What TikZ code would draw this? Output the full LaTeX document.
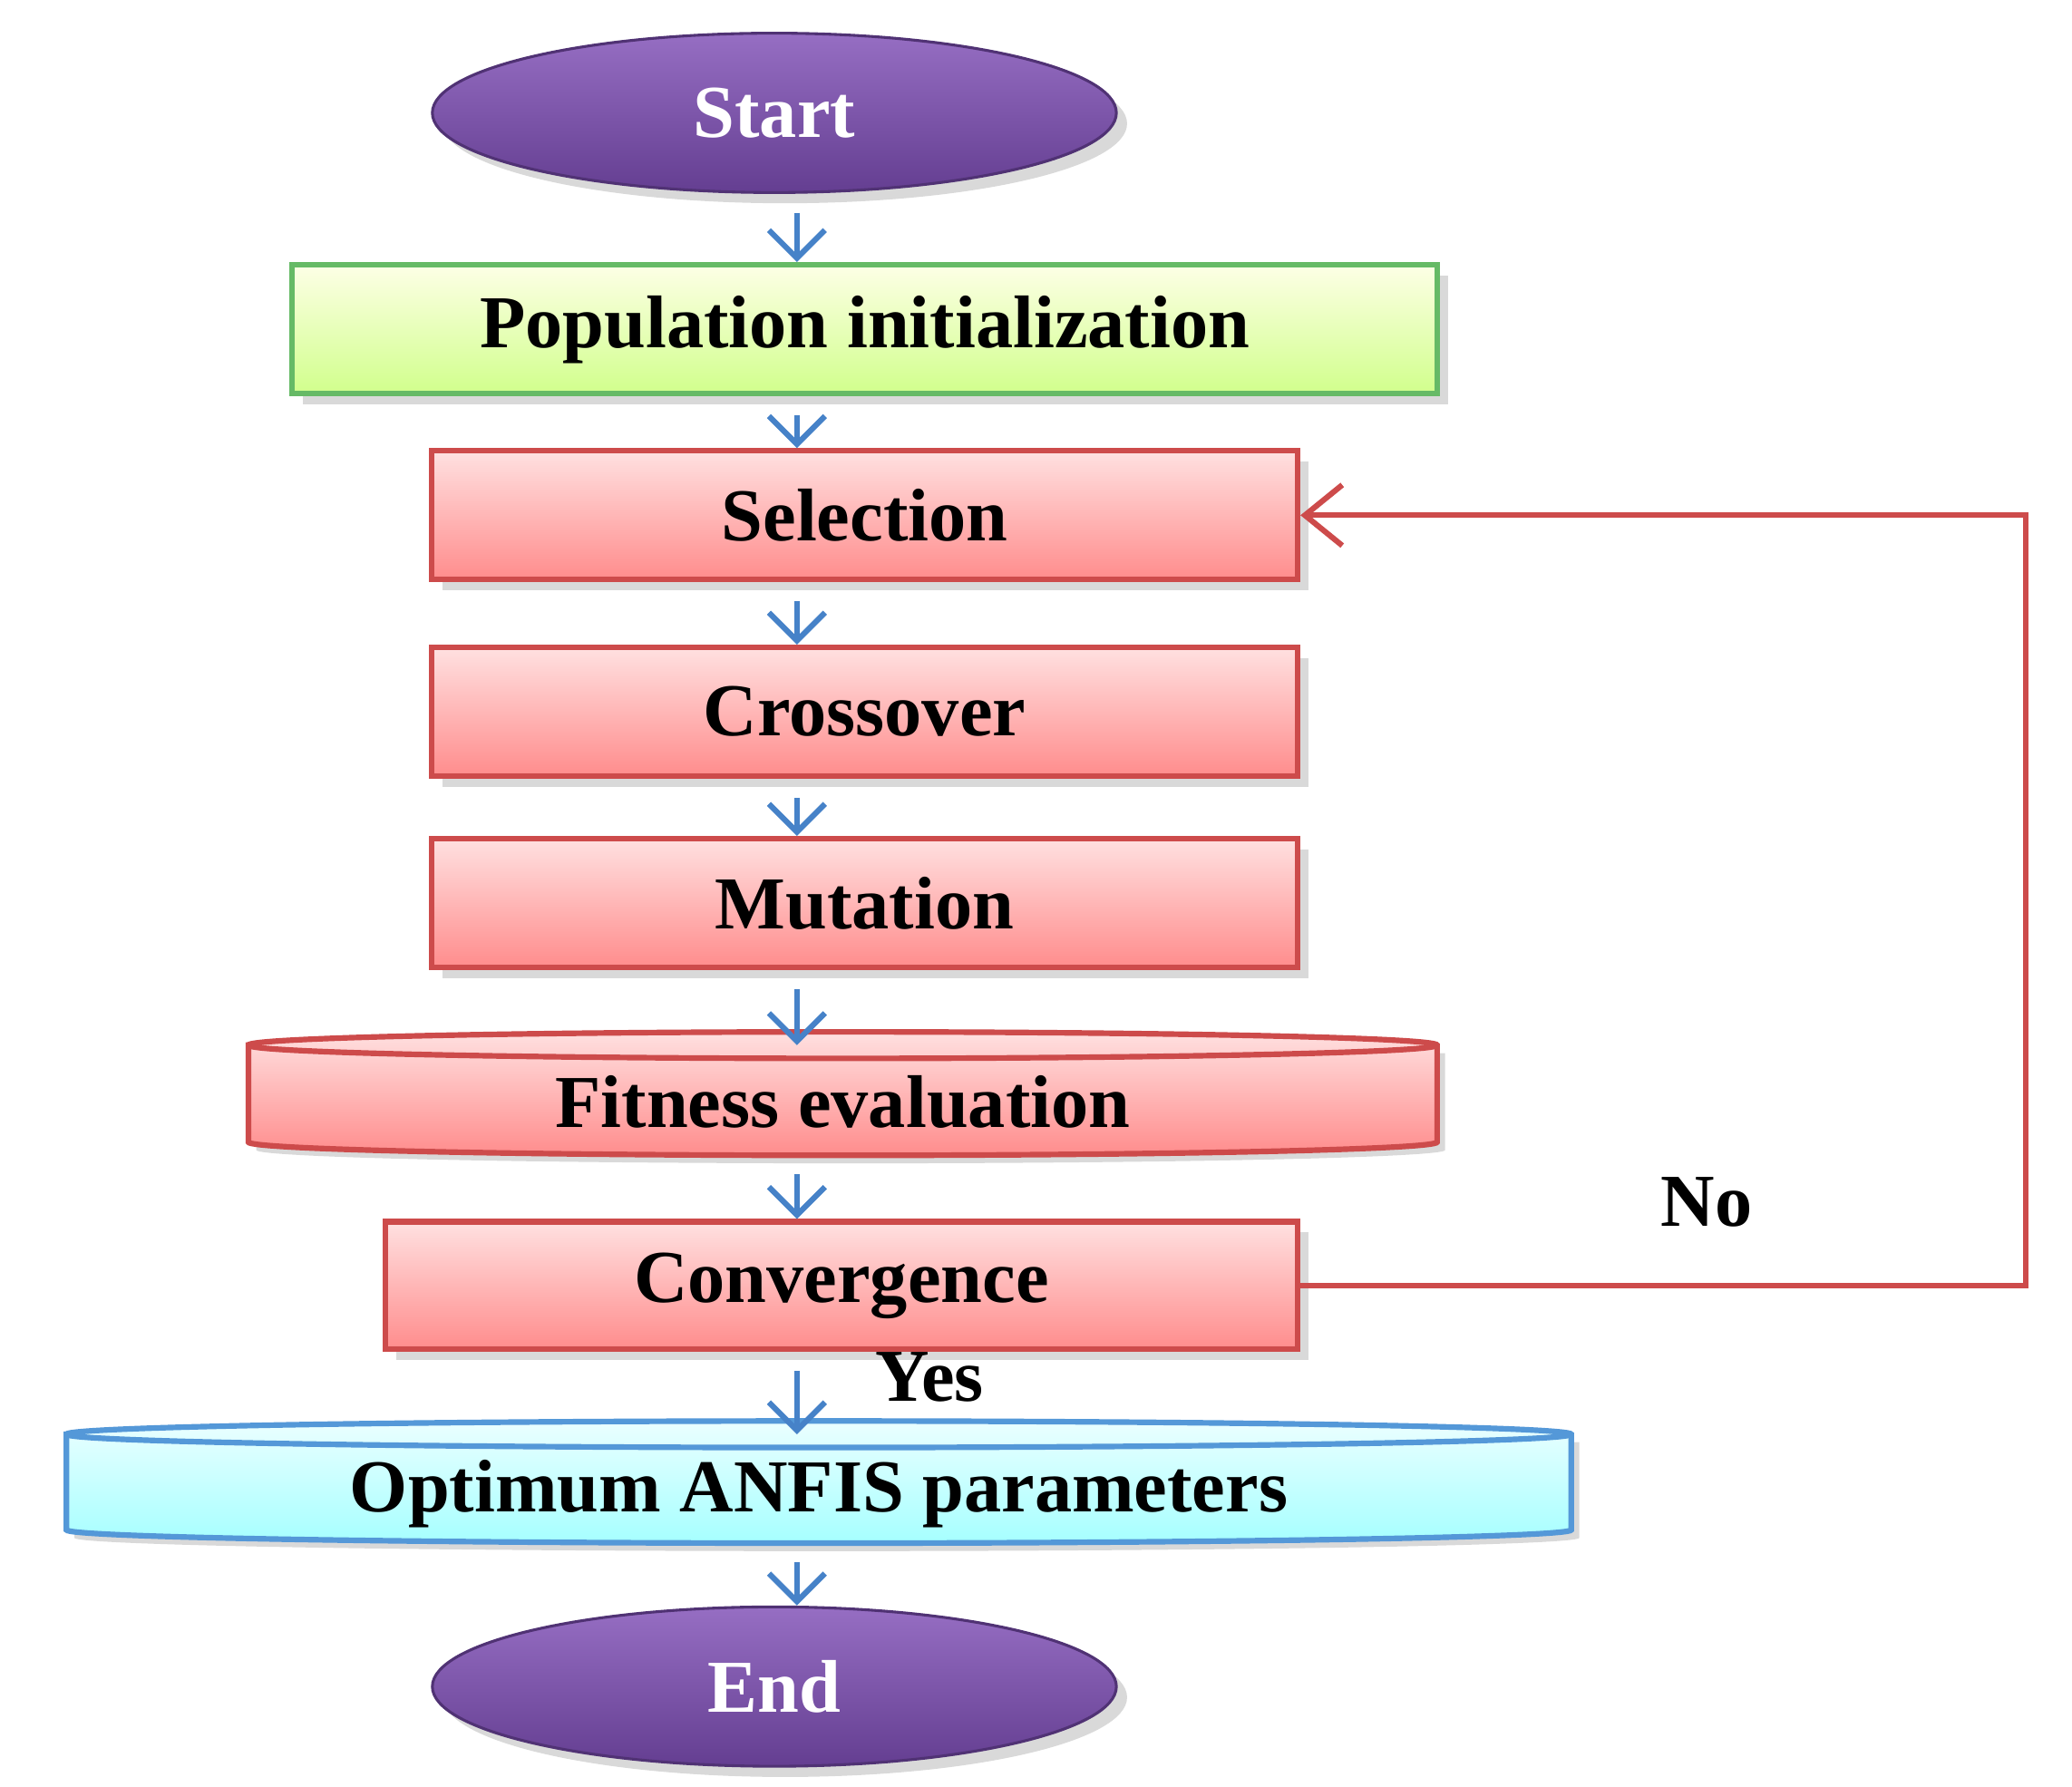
\documentclass[tikz,border=0pt]{standalone}
\usepackage{fontspec}
\setmainfont{Liberation Serif}
\usetikzlibrary{shapes.geometric,shadows,calc,arrows.meta}
\definecolor{boxred}{RGB}{205,75,75}
\definecolor{arrowblue}{RGB}{70,130,200}
\definecolor{termtop}{RGB}{150,110,195}
\definecolor{termbot}{RGB}{100,62,145}
\tikzset{
    stage/.style={rectangle, draw=boxred, line width=1.2pt, top color=red!12, bottom color=red!45!white,
        drop shadow={opacity=0.3}, font=\fontsize{16}{19}\selectfont\bfseries},
    term/.style={ellipse, draw=termbot!80!black, line width=0.6pt, top color=termtop, bottom color=termbot,
        minimum width=5.15cm, minimum height=1.2cm, drop shadow={opacity=0.3},
        text=white, font=\fontsize{16}{19}\selectfont\bfseries},
    flow/.style={->, arrowblue, line width=1.2pt, shorten <=4pt, >={Straight Barb[length=6pt,width=12pt]}},
}
\begin{document}
\begin{tikzpicture}
    \useasboundingbox (0,0) rectangle (15.6,13.45);

    % --- Start / End ---
    \node[term] (start) at (5.83,12.6) {Start};
    \node[term] (end) at (5.83,0.75) {End};

    % --- stages ---
    \node[stage, minimum width=8.62cm, minimum height=0.97cm, draw=green!55!black!60, top color=green!8!yellow!10,
        bottom color=green!40!yellow!45] (init) at (6.51,10.97) {Population initialization};
    \node[stage, minimum width=6.52cm, minimum height=0.97cm] (sel) at (6.51,9.57) {Selection};
    \node[stage, minimum width=6.52cm, minimum height=0.97cm] (cross) at (6.51,8.09) {Crossover};
    \node[stage, minimum width=6.52cm, minimum height=0.97cm] (mut) at (6.51,6.65) {Mutation};
    \node[stage, minimum width=6.87cm, minimum height=0.96cm] (conv) at (6.335,3.77) {Convergence};

    % --- disks ---
    \fill[gray, opacity=0.3] (1.93,5.52) -- (1.93,4.79) arc (180:360:4.475 and 0.1) -- (10.88,5.52) -- cycle;
    \draw[boxred, line width=1.2pt, top color=red!12, bottom color=red!45!white]
        (1.87,5.58) -- (1.87,4.85) arc (180:360:4.475 and 0.1) -- (10.82,5.58) arc (0:180:4.475 and 0.1) -- cycle;
    \draw[boxred, line width=1.2pt] (1.87,5.58) arc (180:360:4.475 and 0.1);
    \node[font=\fontsize{16}{19}\selectfont\bfseries] (fit) at (6.345,5.15) {Fitness evaluation};

    \fill[gray, opacity=0.3] (0.56,2.59) -- (0.56,1.87) arc (180:360:5.665 and 0.1) -- (11.89,2.59) -- cycle;
    \draw[cyan!60!blue!70, line width=1.2pt, top color=cyan!8, bottom color=cyan!35]
        (0.5,2.65) -- (0.5,1.93) arc (180:360:5.665 and 0.1) -- (11.83,2.65) arc (0:180:5.665 and 0.1) -- cycle;
    \draw[cyan!60!blue!70, line width=1.2pt] (0.5,2.65) arc (180:360:5.665 and 0.1);
    \node[font=\fontsize{16}{19}\selectfont\bfseries] (opt) at (6.165,2.2) {Optimum ANFIS parameters};

    % --- arrows ---
    \foreach \a/\b in {start/init, init/sel, sel/cross, cross/mut} {
        \draw[flow] (\a.south -| 6,0) -- (\b.north -| 6,0);
    }
    \coordinate (fittop) at (6,5.58);
    \coordinate (fitbot) at (6,4.75);
    \coordinate (opttop) at (6,2.65);
    \coordinate (optbot) at (6,1.83);
    \draw[flow] (mut.south -| 6,0) -- (fittop);
    \draw[flow] (fitbot) -- (conv.north -| 6,0);
    \draw[flow] (conv.south -| 6,0) -- (opttop);
    \draw[flow] (optbot) -- (end.north -| 6,0);

    % --- loop back ---
    \coordinate (turn) at (15.25,0);
    \draw[->, boxred, line width=1.2pt, >={Straight Barb[length=8pt,width=13pt]}]
        (conv.east) -- (conv.east -| turn) -- (sel.east -| turn) -- (sel.east);
    \node[font=\fontsize{16}{19}\selectfont\bfseries] (no) at (12.85,4.4) {No};
    \node[font=\fontsize{16}{19}\selectfont\bfseries] (yes) at (7.0,3.08) {Yes};
\end{tikzpicture}
\end{document}
